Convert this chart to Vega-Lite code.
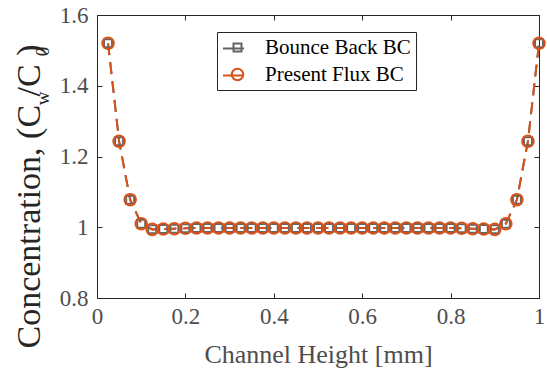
{
  "$schema": "https://vega.github.io/schema/vega-lite/v6.json",
  "width": 442,
  "height": 283,
  "autosize": {"type": "none"},
  "padding": {"left": 97, "top": 15, "right": 8, "bottom": 71},
  "background": "white",
  "config": {
    "font": "Liberation Serif",
    "view": {"stroke": null},
    "style": {
      "guide-label": {"font": "Liberation Serif"},
      "guide-title": {"font": "Liberation Serif"}
    },
    "axis": {
      "grid": false, "domainColor": "#262626", "tickColor": "#262626", "domainWidth": 1, "tickWidth": 1,
      "labelFont": "Liberation Serif", "titleFont": "Liberation Serif"
    },
    "legend": {"labelFont": "Liberation Serif", "titleFont": "Liberation Serif"}
  },
  "data": {
    "values": [
      {"s": "Bounce Back BC", "x": 0.025, "y": 1.52},
      {"s": "Bounce Back BC", "x": 0.05, "y": 1.243},
      {"s": "Bounce Back BC", "x": 0.075, "y": 1.078},
      {"s": "Bounce Back BC", "x": 0.1, "y": 1.01},
      {"s": "Bounce Back BC", "x": 0.125, "y": 0.994},
      {"s": "Bounce Back BC", "x": 0.15, "y": 0.995},
      {"s": "Bounce Back BC", "x": 0.175, "y": 0.996},
      {"s": "Bounce Back BC", "x": 0.2, "y": 0.997},
      {"s": "Bounce Back BC", "x": 0.225, "y": 0.998},
      {"s": "Bounce Back BC", "x": 0.25, "y": 0.998},
      {"s": "Bounce Back BC", "x": 0.275, "y": 0.998},
      {"s": "Bounce Back BC", "x": 0.3, "y": 0.998},
      {"s": "Bounce Back BC", "x": 0.325, "y": 0.998},
      {"s": "Bounce Back BC", "x": 0.35, "y": 0.998},
      {"s": "Bounce Back BC", "x": 0.375, "y": 0.998},
      {"s": "Bounce Back BC", "x": 0.4, "y": 0.998},
      {"s": "Bounce Back BC", "x": 0.425, "y": 0.998},
      {"s": "Bounce Back BC", "x": 0.45, "y": 0.998},
      {"s": "Bounce Back BC", "x": 0.475, "y": 0.998},
      {"s": "Bounce Back BC", "x": 0.5, "y": 0.998},
      {"s": "Bounce Back BC", "x": 0.525, "y": 0.998},
      {"s": "Bounce Back BC", "x": 0.55, "y": 0.998},
      {"s": "Bounce Back BC", "x": 0.575, "y": 0.998},
      {"s": "Bounce Back BC", "x": 0.6, "y": 0.998},
      {"s": "Bounce Back BC", "x": 0.625, "y": 0.998},
      {"s": "Bounce Back BC", "x": 0.65, "y": 0.998},
      {"s": "Bounce Back BC", "x": 0.675, "y": 0.998},
      {"s": "Bounce Back BC", "x": 0.7, "y": 0.998},
      {"s": "Bounce Back BC", "x": 0.725, "y": 0.998},
      {"s": "Bounce Back BC", "x": 0.75, "y": 0.998},
      {"s": "Bounce Back BC", "x": 0.775, "y": 0.998},
      {"s": "Bounce Back BC", "x": 0.8, "y": 0.998},
      {"s": "Bounce Back BC", "x": 0.825, "y": 0.997},
      {"s": "Bounce Back BC", "x": 0.85, "y": 0.996},
      {"s": "Bounce Back BC", "x": 0.875, "y": 0.995},
      {"s": "Bounce Back BC", "x": 0.9, "y": 0.994},
      {"s": "Bounce Back BC", "x": 0.925, "y": 1.01},
      {"s": "Bounce Back BC", "x": 0.95, "y": 1.078},
      {"s": "Bounce Back BC", "x": 0.975, "y": 1.243},
      {"s": "Bounce Back BC", "x": 1.0, "y": 1.52},
      {"s": "Present Flux BC", "x": 0.025, "y": 1.52},
      {"s": "Present Flux BC", "x": 0.05, "y": 1.243},
      {"s": "Present Flux BC", "x": 0.075, "y": 1.078},
      {"s": "Present Flux BC", "x": 0.1, "y": 1.01},
      {"s": "Present Flux BC", "x": 0.125, "y": 0.994},
      {"s": "Present Flux BC", "x": 0.15, "y": 0.995},
      {"s": "Present Flux BC", "x": 0.175, "y": 0.996},
      {"s": "Present Flux BC", "x": 0.2, "y": 0.997},
      {"s": "Present Flux BC", "x": 0.225, "y": 0.998},
      {"s": "Present Flux BC", "x": 0.25, "y": 0.998},
      {"s": "Present Flux BC", "x": 0.275, "y": 0.998},
      {"s": "Present Flux BC", "x": 0.3, "y": 0.998},
      {"s": "Present Flux BC", "x": 0.325, "y": 0.998},
      {"s": "Present Flux BC", "x": 0.35, "y": 0.998},
      {"s": "Present Flux BC", "x": 0.375, "y": 0.998},
      {"s": "Present Flux BC", "x": 0.4, "y": 0.998},
      {"s": "Present Flux BC", "x": 0.425, "y": 0.998},
      {"s": "Present Flux BC", "x": 0.45, "y": 0.998},
      {"s": "Present Flux BC", "x": 0.475, "y": 0.998},
      {"s": "Present Flux BC", "x": 0.5, "y": 0.998},
      {"s": "Present Flux BC", "x": 0.525, "y": 0.998},
      {"s": "Present Flux BC", "x": 0.55, "y": 0.998},
      {"s": "Present Flux BC", "x": 0.575, "y": 0.998},
      {"s": "Present Flux BC", "x": 0.6, "y": 0.998},
      {"s": "Present Flux BC", "x": 0.625, "y": 0.998},
      {"s": "Present Flux BC", "x": 0.65, "y": 0.998},
      {"s": "Present Flux BC", "x": 0.675, "y": 0.998},
      {"s": "Present Flux BC", "x": 0.7, "y": 0.998},
      {"s": "Present Flux BC", "x": 0.725, "y": 0.998},
      {"s": "Present Flux BC", "x": 0.75, "y": 0.998},
      {"s": "Present Flux BC", "x": 0.775, "y": 0.998},
      {"s": "Present Flux BC", "x": 0.8, "y": 0.998},
      {"s": "Present Flux BC", "x": 0.825, "y": 0.997},
      {"s": "Present Flux BC", "x": 0.85, "y": 0.996},
      {"s": "Present Flux BC", "x": 0.875, "y": 0.995},
      {"s": "Present Flux BC", "x": 0.9, "y": 0.994},
      {"s": "Present Flux BC", "x": 0.925, "y": 1.01},
      {"s": "Present Flux BC", "x": 0.95, "y": 1.078},
      {"s": "Present Flux BC", "x": 0.975, "y": 1.243},
      {"s": "Present Flux BC", "x": 1.0, "y": 1.52}
    ]
  },
  "layer": [
    {
      "mark": {"type": "line", "strokeWidth": 2, "strokeDash": [12, 7]},
      "encoding": {
        "x": {
          "field": "x", "type": "quantitative", "scale": {"domain": [0, 1]},
          "axis": {
            "orient": "top", "values": [0, 0.2, 0.4, 0.6, 0.8, 1], "labels": false, "tickSize": -5,
            "title": "0", "titleAngle": 270, "titleFont": "Liberation Serif", "titleFontSize": 19, "titleFontWeight": "normal",
            "titleColor": "#262626", "titleAlign": "center", "titleBaseline": "alphabetic", "titleX": -49, "titleY": 36
          }
        },
        "y": {
          "field": "y", "type": "quantitative", "scale": {"domain": [0.8, 1.6]},
          "axis": {
            "orient": "right", "values": [0.8, 1, 1.2, 1.4, 1.6], "labels": false, "tickSize": -5,
            "title": "w", "titleAngle": 270, "titleFont": "Liberation Serif", "titleFontSize": 19, "titleFontWeight": "normal",
            "titleColor": "#262626", "titleAlign": "center", "titleBaseline": "alphabetic", "titleX": -491, "titleY": 83
          }
        },
        "stroke": {
          "field": "s", "type": "nominal",
          "scale": {"range": ["#646464", "#D95319"]},
          "legend": {
            "orient": "none", "legendX": 120, "legendY": 17, "title": null,
            "symbolType": "stroke", "symbolSize": 441, "symbolStrokeWidth": 2, "symbolDash": [100, 0], "symbolOffset": 0,
            "labelExpr": "''", "labelFont": "Liberation Serif", "labelFontSize": 21, "labelOpacity": 0, "labelOffset": 0,
            "strokeColor": "transparent", "fillColor": "transparent", "padding": 5, "rowPadding": 5
          }
        }
      }
    },
    {
      "mark": {"type": "point", "filled": false, "strokeWidth": 2, "opacity": 1},
      "encoding": {
        "x": {
          "field": "x", "type": "quantitative", "scale": {"domain": [0, 1]},
          "axis": {
            "orient": "bottom", "values": [0, 0.2, 0.4, 0.6, 0.8, 1], "format": "~g", "tickSize": -5,
            "labelFont": "Liberation Serif", "labelFontSize": 23, "labelColor": "#4d4d4d", "labelPadding": 12, "labelFlush": false,
            "title": "Channel Height [mm]", "titleFontSize": 26, "titleFontWeight": "normal", "titleColor": "#4d4d4d",
            "titleAlign": "center", "titleBaseline": "alphabetic", "titleX": 221, "titleY": 64
          }
        },
        "y": {
          "field": "y", "type": "quantitative", "scale": {"domain": [0.8, 1.6]},
          "axis": {
            "orient": "left", "values": [0.8, 1, 1.2, 1.4, 1.6], "format": "~g", "tickSize": -5,
            "labelFont": "Liberation Serif", "labelFontSize": 23, "labelColor": "#4d4d4d", "labelPadding": 14, "labelFlush": false,
            "title": "Concentration, (C  /C  )", "titleAngle": 270, "titleFontSize": 34, "titleFontWeight": "normal",
            "titleColor": "#262626", "titleAlign": "left", "titleBaseline": "alphabetic", "titleX": -58, "titleY": 333
          }
        },
        "color": {
          "field": "s", "type": "nominal",
          "scale": {"domain": ["Bounce Back BC", "Present Flux BC"], "range": ["#646464", "#D95319"]},
          "legend": {
            "orient": "none", "legendX": 120, "legendY": 17, "title": null,
            "labelFont": "Liberation Serif", "labelFontSize": 21, "labelColor": "#000000", "labelOffset": 17,
            "symbolOffset": 5, "symbolStrokeWidth": 2, "symbolFillColor": "white",
            "strokeColor": "#262626", "fillColor": "transparent", "padding": 5, "rowPadding": 5
          }
        },
        "shape": {
          "field": "s", "type": "nominal",
          "scale": {"domain": ["Bounce Back BC", "Present Flux BC"], "range": ["square", "circle"]}
        },
        "size": {
          "field": "s", "type": "nominal",
          "scale": {"domain": ["Bounce Back BC", "Present Flux BC"], "range": [64, 133]}
        }
      }
    }
  ],
  "resolve": {"axis": {"x": "independent", "y": "independent"}}
}
